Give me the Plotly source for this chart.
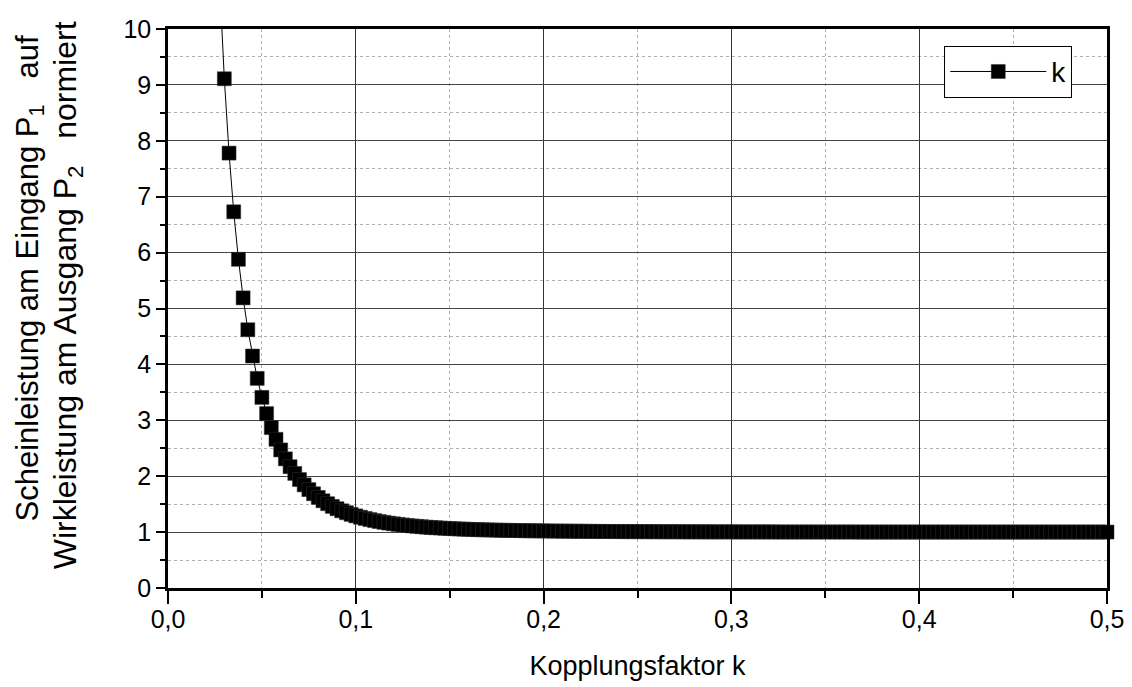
import plotly.graph_objects as go

# Coupling factor k (x values)
k_values = [
    0.0275, 0.0300, 0.0325, 0.0350, 0.0375, 0.0400, 0.0425, 0.0450, 0.0475, 0.0500,
    0.0525, 0.0550, 0.0575, 0.0600, 0.0625, 0.0650, 0.0675, 0.0700, 0.0725, 0.0750,
    0.0775, 0.0800, 0.0825, 0.0850, 0.0875, 0.0900, 0.0925, 0.0950, 0.0975, 0.1000,
    0.1025, 0.1050, 0.1075, 0.1100, 0.1125, 0.1150, 0.1175, 0.1200, 0.1225, 0.1250,
    0.1275, 0.1300, 0.1325, 0.1350, 0.1375, 0.1400, 0.1425, 0.1450, 0.1475, 0.1500,
    0.1525, 0.1550, 0.1575, 0.1600, 0.1625, 0.1650, 0.1675, 0.1700, 0.1725, 0.1750,
    0.1775, 0.1800, 0.1825, 0.1850, 0.1875, 0.1900, 0.1925, 0.1950, 0.1975, 0.2000,
    0.2025, 0.2050, 0.2075, 0.2100, 0.2125, 0.2150, 0.2175, 0.2200, 0.2225, 0.2250,
    0.2275, 0.2300, 0.2325, 0.2350, 0.2375, 0.2400, 0.2425, 0.2450, 0.2475, 0.2500,
    0.2525, 0.2550, 0.2575, 0.2600, 0.2625, 0.2650, 0.2675, 0.2700, 0.2725, 0.2750,
    0.2775, 0.2800, 0.2825, 0.2850, 0.2875, 0.2900, 0.2925, 0.2950, 0.2975, 0.3000,
    0.3025, 0.3050, 0.3075, 0.3100, 0.3125, 0.3150, 0.3175, 0.3200, 0.3225, 0.3250,
    0.3275, 0.3300, 0.3325, 0.3350, 0.3375, 0.3400, 0.3425, 0.3450, 0.3475, 0.3500,
    0.3525, 0.3550, 0.3575, 0.3600, 0.3625, 0.3650, 0.3675, 0.3700, 0.3725, 0.3750,
    0.3775, 0.3800, 0.3825, 0.3850, 0.3875, 0.3900, 0.3925, 0.3950, 0.3975, 0.4000,
    0.4025, 0.4050, 0.4075, 0.4100, 0.4125, 0.4150, 0.4175, 0.4200, 0.4225, 0.4250,
    0.4275, 0.4300, 0.4325, 0.4350, 0.4375, 0.4400, 0.4425, 0.4450, 0.4475, 0.4500,
    0.4525, 0.4550, 0.4575, 0.4600, 0.4625, 0.4650, 0.4675, 0.4700, 0.4725, 0.4750,
    0.4775, 0.4800, 0.4825, 0.4850, 0.4875, 0.4900, 0.4925, 0.4950, 0.4975, 0.5000,
]

# Normalised power ratio (y values)
ratio_values = [
    10.82, 9.11, 7.78, 6.73, 5.88, 5.19, 4.62, 4.15, 3.75, 3.41,
    3.12, 2.87, 2.66, 2.47, 2.31, 2.17, 2.05, 1.94, 1.845, 1.76,
    1.686, 1.62, 1.56, 1.508, 1.46, 1.418, 1.381, 1.347, 1.317, 1.290,
    1.266, 1.244, 1.224, 1.206, 1.189, 1.175, 1.161, 1.149, 1.138, 1.128,
    1.119, 1.110, 1.103, 1.096, 1.089, 1.083, 1.078, 1.073, 1.068, 1.064,
    1.060, 1.056, 1.053, 1.050, 1.046, 1.044, 1.041, 1.039, 1.037, 1.035,
    1.033, 1.031, 1.030, 1.028, 1.027, 1.025, 1.024, 1.023, 1.022, 1.021,
    1.020, 1.019, 1.018, 1.017, 1.017, 1.016, 1.015, 1.014, 1.014, 1.013,
    1.012, 1.012, 1.011, 1.011, 1.010, 1.010, 1.009, 1.009, 1.009, 1.008,
    1.008, 1.008, 1.007, 1.007, 1.007, 1.006, 1.006, 1.006, 1.006, 1.005,
    1.005, 1.005, 1.005, 1.005, 1.004, 1.004, 1.004, 1.004, 1.004, 1.004,
    1.004, 1.003, 1.003, 1.003, 1.003, 1.003, 1.003, 1.003, 1.003, 1.002,
    1.002, 1.002, 1.002, 1.002, 1.002, 1.002, 1.002, 1.002, 1.002, 1.002,
    1.002, 1.002, 1.002, 1.002, 1.002, 1.002, 1.001, 1.001, 1.001, 1.001,
    1.001, 1.001, 1.001, 1.001, 1.001, 1.001, 1.001, 1.001, 1.001, 1.001,
    1.001, 1.001, 1.001, 1.001, 1.001, 1.001, 1.001, 1.001, 1.001, 1.001,
    1.001, 1.001, 1.001, 1.001, 1.001, 1.001, 1.001, 1.001, 1.001, 1.001,
    1.001, 1.001, 1.001, 1.001, 1.001, 1.001, 1.001, 1.001, 1.001, 1.001,
    1.001, 1.001, 1.001, 1.001, 1.001, 1.001, 1.001, 1.001, 1.001, 1.001,
]

x_tickvals = [0.0, 0.1, 0.2, 0.3, 0.4, 0.5]
y_tickvals = [0, 1, 2, 3, 4, 5, 6, 7, 8, 9, 10]
y_title_lines = [
    "Scheinleistung am Eingang P<sub>1</sub>&nbsp;&nbsp; auf",
    "Wirkleistung am Ausgang P<sub>2</sub>&nbsp;&nbsp; normiert",
]

FONT = "Liberation Sans, Arial, sans-serif"

fig = go.Figure()
fig.add_trace(go.Scatter(
    x=k_values, y=ratio_values, mode="lines+markers", name="k",
    line=dict(color="black", width=1),
    marker=dict(symbol="square", size=14, color="black",
                line=dict(color="#333333", width=0.5)),
    cliponaxis=False,
))

fig.update_layout(
    width=1132, height=687,
    margin=dict(l=168, r=25, t=29, b=99),
    paper_bgcolor="white", plot_bgcolor="white",
    separators=", ",
    font=dict(family=FONT, size=24, color="black"),
    showlegend=True,
    legend=dict(
        x=0.963, y=0.970, xanchor="right", yanchor="top",
        bordercolor="black", borderwidth=1, bgcolor="white",
        font=dict(size=28, family=FONT, color="black"),
        itemwidth=96, tracegroupgap=0,
    ),
)

fig.add_annotation(text=y_title_lines[0], xref="paper", yref="paper",
                   x=-0.1474, y=0.553, xanchor="center", yanchor="middle",
                   textangle=-90, showarrow=False,
                   font=dict(size=31, family=FONT, color="black"))
fig.add_annotation(text=y_title_lines[1], xref="paper", yref="paper",
                   x=-0.1069, y=0.523, xanchor="center", yanchor="middle",
                   textangle=-90, showarrow=False,
                   font=dict(size=32, family=FONT, color="black"))

fig.update_xaxes(
    range=[0, 0.5], tickvals=x_tickvals, tickformat=".1f",
    showline=True, linecolor="black", linewidth=2.5, mirror=True,
    ticks="outside", ticklen=13, tickwidth=2, tickcolor="black",
    showgrid=True, gridcolor="#333333", gridwidth=1,
    zeroline=False, automargin=False,
    tickfont=dict(size=25, family=FONT), ticklabelstandoff=-6,
    title=dict(text="Kopplungsfaktor k", font=dict(size=27, family=FONT), standoff=25),
    minor=dict(dtick=0.05, ticks="outside", ticklen=7, tickwidth=2, tickcolor="black",
               showgrid=True, gridcolor="#b0b0b0", griddash="dot", gridwidth=1),
)

fig.update_yaxes(
    range=[0, 10], tickvals=y_tickvals,
    showline=True, linecolor="black", linewidth=2.5, mirror=True,
    ticks="outside", ticklen=9, tickwidth=2, tickcolor="black",
    showgrid=True, gridcolor="#444444", gridwidth=1,
    zeroline=False, automargin=False,
    tickfont=dict(size=25, family=FONT),
    minor=dict(dtick=0.5, ticks="outside", ticklen=5, tickwidth=2, tickcolor="black",
               showgrid=True, gridcolor="#b0b0b0", griddash="dot", gridwidth=1),
)

fig.write_html("out.html")
